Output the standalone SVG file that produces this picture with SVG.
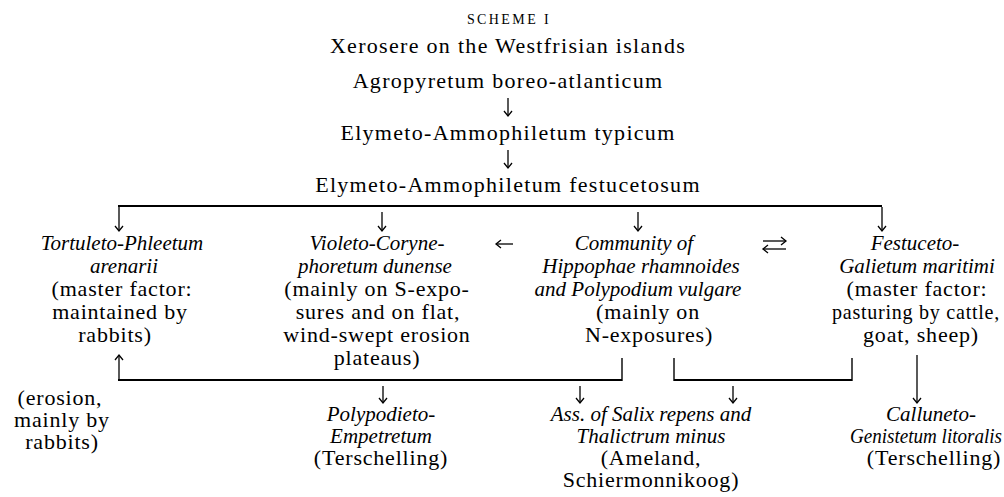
<svg xmlns="http://www.w3.org/2000/svg" width="1004" height="497" viewBox="0 0 1004 497">
<defs>
<style>
text{font-family:"Liberation Serif","Times New Roman",serif;font-size:22px;fill:#000;text-anchor:middle}
.r{letter-spacing:0.8px}
.h{letter-spacing:1.3px}
.i{font-style:italic;font-size:21px}
.sc{font-size:14px;letter-spacing:2.4px}
.ln{stroke:#000;stroke-width:2;fill:none}
.tk{stroke:#000;stroke-width:1.4;fill:none}
.ar{stroke:#000;stroke-width:1.3;fill:none;marker-end:url(#ah)}
</style>
<marker id="ah" viewBox="0 0 10 10" refX="6" refY="5" markerWidth="10" markerHeight="10" markerUnits="userSpaceOnUse" orient="auto">
<path d="M1,1 L6,5 L1,9" fill="none" stroke="#000" stroke-width="1.3"/>
</marker>
</defs>
<rect width="1004" height="497" fill="#fff"/>

<g id="heading">
<text class="sc" x="509" y="24">SCHEME I</text>
<text class="h" x="508" y="53">Xerosere on the Westfrisian islands</text>
</g>
<g id="agropyretum"><text class="h" x="508" y="88">Agropyretum boreo-atlanticum</text></g>
<g id="typicum"><text class="h" x="508" y="140">Elymeto-Ammophiletum typicum</text></g>
<g id="festucetosum"><text class="h" x="508" y="192">Elymeto-Ammophiletum festucetosum</text></g>

<g id="tortuleto">
<text class="i" x="122" y="250">Tortuleto-Phleetum</text>
<text class="i" x="124" y="273">arenarii</text>
<text class="r" x="122" y="296">(master factor:</text>
<text class="r" x="120" y="319">maintained by</text>
<text class="r" x="115" y="342">rabbits)</text>
</g>
<g id="violeto">
<text class="i" x="377" y="250">Violeto-Coryne-</text>
<text class="i" x="375" y="273">phoretum dunense</text>
<text class="r" x="377" y="296">(mainly on S-expo-</text>
<text class="r" x="378" y="319">sures and on flat,</text>
<text class="r" x="377" y="342">wind-swept erosion</text>
<text class="r" x="377" y="365">plateaus)</text>
</g>
<g id="community">
<text class="i" x="634" y="250">Community of</text>
<text class="i" x="641" y="273">Hippophae rhamnoides</text>
<text class="i" x="638" y="296">and Polypodium vulgare</text>
<text class="r" x="648" y="319">(mainly on</text>
<text class="r" x="649" y="342">N-exposures)</text>
</g>
<g id="festuceto">
<text class="i" x="915" y="250">Festuceto-</text>
<text class="i" x="917" y="273">Galietum maritimi</text>
<text class="r" x="917" y="296">(master factor:</text>
<text class="r" x="832" y="319" style="text-anchor:start" textLength="168" lengthAdjust="spacingAndGlyphs">pasturing  by  cattle,</text>
<text class="r" x="921" y="342">goat, sheep)</text>
</g>
<g id="erosion">
<text class="r" x="60" y="405">(erosion,</text>
<text class="r" x="62" y="427">mainly by</text>
<text class="r" x="62" y="449">rabbits)</text>
</g>
<g id="polypodieto">
<text class="i" x="381" y="421">Polypodieto-</text>
<text class="i" x="381" y="443">Empetretum</text>
<text class="r" x="381" y="465">(Terschelling)</text>
</g>
<g id="salix">
<text class="i" x="651" y="421">Ass. of Salix repens and</text>
<text class="i" x="651" y="443">Thalictrum minus</text>
<text class="r" x="651" y="465">(Ameland,</text>
<text class="r" x="651" y="487">Schiermonnikoog)</text>
</g>
<g id="calluneto">
<text class="i" x="931" y="421">Calluneto-</text>
<text class="i" x="850" y="443" style="text-anchor:start" textLength="152" lengthAdjust="spacingAndGlyphs">Genistetum litoralis</text>
<text class="r" x="934" y="465">(Terschelling)</text>
</g>

<g id="connectors">
<path class="ar" d="M508,98 V116"/>
<path class="ar" d="M508,150 V168"/>
<path class="ln" d="M118,206 H882"/>
<path class="ar" d="M119,207 V231"/>
<path class="ar" d="M382,212 V231"/>
<path class="ar" d="M638,212 V231"/>
<path class="ar" d="M882,207 V231"/>
<path class="ar" d="M513,244 H496"/>
<path class="ar" d="M763,241 H786"/>
<path class="ar" d="M786,249 H763"/>
<path class="ln" d="M118,380 H622"/>
<path class="tk" d="M622,358 V381"/>
<path class="ar" d="M119,380 V355"/>
<path class="tk" d="M674,358 V381"/>
<path class="ln" d="M674,380 H852"/>
<path class="tk" d="M852,358 V381"/>
<path class="ar" d="M383,386 V403"/>
<path class="ar" d="M580,386 V403"/>
<path class="ar" d="M733,386 V403"/>
<path class="ar" d="M917,355 V403"/>
</g>
</svg>
